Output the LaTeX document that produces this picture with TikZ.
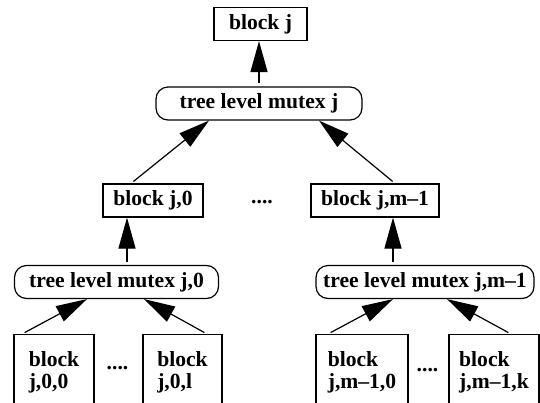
\documentclass[tikz,border=0pt]{standalone}
\usepackage{fontspec}
\setmainfont{Liberation Serif}
\usepackage{tikz}
\usetikzlibrary{arrows.meta}
\pgfdeclarelayer{edgelayer}
\pgfdeclarelayer{nodelayer}
\pgfsetlayers{edgelayer,nodelayer,main}
\tikzstyle{label}=[font=\fontsize{21.6}{22}\selectfont\bfseries,inner sep=0pt]
\tikzstyle{block}=[label,rectangle,draw=black,line width=1.2pt,minimum height=33pt]
\tikzstyle{leaf}=[label,rectangle,draw=black,line width=1.2pt,anchor=north,minimum height=76pt,align=left]
\tikzstyle{mutex}=[label,rectangle,rounded corners=12pt,draw=black,line width=1.2pt,minimum height=33pt]
\tikzstyle{dots}=[label]
\tikzstyle{uparrow}=[-{Triangle[length=31pt,width=17pt]},line width=1.2pt,shorten <=3pt]

\begin{document}
\begin{tikzpicture}[x=1pt,y=-1pt]
	\useasboundingbox (0,0) rectangle (540,402);
	\clip (0,0) rectangle (540,402);
	\begin{pgfonlayer}{nodelayer}
		\node [style=block, minimum width=93pt] (bj) at (260.5, 24) {block j};
		\node [style=mutex, minimum width=206pt] (mj) at (259, 103.5) {tree level mutex j};

		\node [style=block, minimum width=100pt] (bj0) at (153, 200.5) {block j,0};
		\node [style=dots] (d1) at (262, 202) {....};
		\node [style=block, minimum width=128pt] (bjm) at (375, 200.5) {block j,m--1};

		\node [style=mutex, minimum width=204pt] (mj0) at (116.5, 282) {tree level mutex j,0};
		\node [style=mutex, minimum width=218pt] (mjm) at (425, 282) {tree level mutex j,m--1};

		\node [style=leaf, minimum width=80pt] (bj00) at (54, 334) {block\\j,0,0};
		\node [style=dots] (d2) at (117.5, 368) {....};
		\node [style=leaf, minimum width=79pt] (bj0l) at (182.5, 334) {block\\j,0,l};

		\node [style=leaf, minimum width=92pt] (bjm0) at (362, 334) {block\\j,m--1,0};
		\node [style=dots] (d3) at (427.5, 370) {....};
		\node [style=leaf, minimum width=90pt] (bjmk) at (494, 334) {block\\j,m--1,k};
	\end{pgfonlayer}
	\begin{pgfonlayer}{edgelayer}
		\draw [style=uparrow] (mj.north) to (mj.north |- bj.south);
		\draw [style=uparrow] ([xshift=-22pt]bj0.north) to ([xshift=-50pt]mj.south);
		\draw [style=uparrow] ([xshift=20pt]bjm.north) to ([xshift=60pt]mj.south);
		\draw [style=uparrow] ([xshift=10.5pt]mj0.north) to ([xshift=10.5pt]mj0.north |- bj0.south);
		\draw [style=uparrow] ([xshift=-32pt]mjm.north) to ([xshift=-32pt]mjm.north |- bjm.south);
		\draw [style=uparrow] ([xshift=-32pt]bj00.north) to ([xshift=-29.5pt]mj0.south);
		\draw [style=uparrow] ([xshift=24.5pt]bj0l.north) to ([xshift=27.5pt]mj0.south);
		\draw [style=uparrow] ([xshift=-34pt]bjm0.north) to ([xshift=-32pt]mjm.south);
		\draw [style=uparrow] ([xshift=17pt]bjmk.north) to ([xshift=22pt]mjm.south);
	\end{pgfonlayer}
\end{tikzpicture}
\end{document}
